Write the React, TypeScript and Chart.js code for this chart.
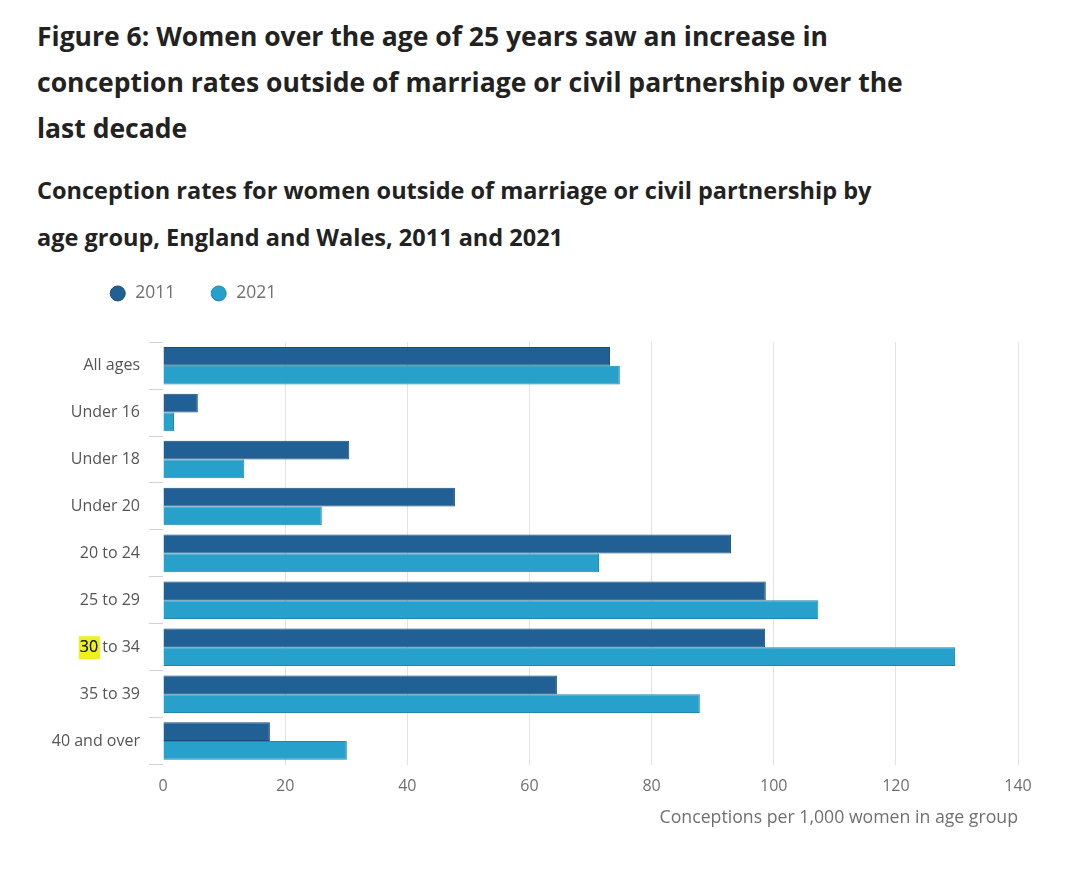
import React, { useEffect, useRef } from 'react';
import { Chart, registerables } from 'chart.js';

Chart.register(...registerables);

const titleLines = [
  'Figure 6: Women over the age of 25 years saw an increase in',
  'conception rates outside of marriage or civil partnership over the',
  'last decade',
];
const subtitleLines = [
  'Conception rates for women outside of marriage or civil partnership by',
  'age group, England and Wales, 2011 and 2021',
];

const categories = [
  'All ages',
  'Under 16',
  'Under 18',
  'Under 20',
  '20 to 24',
  '25 to 29',
  '30 to 34',
  '35 to 39',
  '40 and over',
];
const seriesLabels = ['2011', '2021'];
const values2011 = [73.2, 5.7, 30.5, 47.8, 93.0, 98.7, 98.6, 64.5, 17.5];
const values2021 = [74.8, 1.8, 13.3, 26.0, 71.4, 107.3, 129.7, 87.9, 30.1];
const xMin = 0;
const xMax = 140;
const xStep = 20;
const xAxisTitle = 'Conceptions per 1,000 women in age group';
const highlightLabel = '30 to 34';
const highlightText = '30';

const FONT = '"Open Sans", sans-serif';
const Y_TICK_LEN = 14;
const Y_TICK_PAD = 9;
const LABEL_SIZE = 16;
const PAD_LEFT = 37;
const LEGEND_SHIFT = 37.3;

const legendOffsetPlugin = {
  id: 'legendOffset',
  afterLayout(chart: any) {
    if (chart.legend) {
      chart.legend.left = chart.legend.left + LEGEND_SHIFT;
    }
  },
};

const highlightPlugin = {
  id: 'labelHighlight',
  beforeDraw(chart: any) {
    const idx = categories.indexOf(highlightLabel);
    if (idx < 0) return;
    const ctx = chart.ctx;
    ctx.save();
    ctx.font = `${LABEL_SIZE}px ${FONT}`;
    const full = ctx.measureText(highlightLabel).width;
    const part = ctx.measureText(highlightText).width;
    const right = chart.chartArea.left - Y_TICK_LEN - Y_TICK_PAD;
    const left = right - full;
    const cy = chart.scales.y.getPixelForValue(idx);
    ctx.fillStyle = '#eef21c';
    ctx.fillRect(left - 1, cy - 11, part + 3, 23);
    ctx.restore();
  },
  afterDraw(chart: any) {
    const idx = categories.indexOf(highlightLabel);
    if (idx < 0) return;
    const ctx = chart.ctx;
    ctx.save();
    ctx.font = `${LABEL_SIZE}px ${FONT}`;
    const full = ctx.measureText(highlightLabel).width;
    const right = chart.chartArea.left - Y_TICK_LEN - Y_TICK_PAD;
    const left = right - full;
    const cy = chart.scales.y.getPixelForValue(idx);
    ctx.fillStyle = '#1a1a1a';
    ctx.textAlign = 'left';
    ctx.textBaseline = 'middle';
    ctx.fillText(highlightText, left, cy);
    ctx.restore();
  },
};

export default function App() {
  const canvasRef = useRef<HTMLCanvasElement | null>(null);

  useEffect(() => {
    if (!canvasRef.current) return;
    Chart.defaults.font.family = FONT;
    const chart = new Chart(canvasRef.current, {
      type: 'bar',
      data: {
        labels: categories,
        datasets: [
          {
            label: seriesLabels[0],
            data: values2011,
            backgroundColor: '#206095',
            borderColor: '#184b76',
            borderWidth: 1,
            categoryPercentage: 0.8,
            barPercentage: 1.0,
          },
          {
            label: seriesLabels[1],
            data: values2021,
            backgroundColor: '#27a0cc',
            borderColor: '#1f87ad',
            borderWidth: 1,
            categoryPercentage: 0.8,
            barPercentage: 1.0,
          },
        ],
      },
      options: {
        indexAxis: 'y',
        responsive: false,
        animation: false,
        layout: { padding: { left: PAD_LEFT, right: 62, top: 0, bottom: 0 } },
        plugins: {
          tooltip: { enabled: false },
          legend: {
            display: true,
            position: 'top',
            align: 'start',
            labels: {
              usePointStyle: true,
              pointStyle: 'circle',
              boxHeight: 10.6,
              padding: 34.7,
              color: '#707070',
              font: { size: 17.5, family: FONT },
            },
          },
        },
        scales: {
          x: {
            type: 'linear',
            position: 'bottom',
            min: xMin,
            max: xMax,
            ticks: {
              stepSize: xStep,
              color: '#707070',
              padding: 12,
              font: { size: 16, family: FONT },
            },
            grid: {
              drawTicks: false,
              color: (c: any) => (c.tick && c.tick.value === 0 ? 'rgba(0,0,0,0)' : '#e3e3e3'),
            },
            border: { display: false },
            title: {
              display: true,
              text: xAxisTitle,
              align: 'end',
              color: '#707070',
              font: { size: 17.7, family: FONT },
              padding: { top: 0, bottom: 3 },
            },
          },
          xSpacer: {
            type: 'linear',
            axis: 'x',
            position: 'top',
            display: true,
            grid: { display: false },
            border: { display: false },
            ticks: { display: false },
            title: {
              display: true,
              text: '',
              padding: 0,
              font: { size: 1, lineHeight: '22px' },
            },
          },
          y: {
            type: 'category',
            afterFit: (scale: any) => {
              scale.width = 163 - PAD_LEFT;
            },
            ticks: {
              color: '#555555',
              padding: Y_TICK_PAD,
              font: { size: LABEL_SIZE, family: FONT },
            },
            grid: {
              drawOnChartArea: false,
              drawTicks: true,
              tickLength: Y_TICK_LEN,
              color: '#d2d2d2',
              offset: true,
            },
            border: { display: false },
          },
        },
      },
      plugins: [legendOffsetPlugin, highlightPlugin],
    } as any);
    return () => chart.destroy();
  }, []);

  return (
    <div style={{ position: 'absolute', left: 0, top: 0, width: 1080, height: 872, background: '#ffffff' }}>
      <div
        style={{
          position: 'absolute',
          left: 37,
          top: 13,
          font: `700 26.5px/46px ${FONT}`,
          color: '#222222',
          whiteSpace: 'nowrap',
        }}
      >
        {titleLines.map((l, i) => (
          <div key={i}>{l}</div>
        ))}
      </div>
      <div
        style={{
          position: 'absolute',
          left: 37,
          top: 167,
          font: `700 23.5px/47px ${FONT}`,
          color: '#222222',
          whiteSpace: 'nowrap',
        }}
      >
        {subtitleLines.map((l, i) => (
          <div key={i}>{l}</div>
        ))}
      </div>
      <canvas
        ref={canvasRef}
        width={1080}
        height={582}
        style={{ position: 'absolute', left: 0, top: 250, width: 1080, height: 582 }}
      />
    </div>
  );
}
